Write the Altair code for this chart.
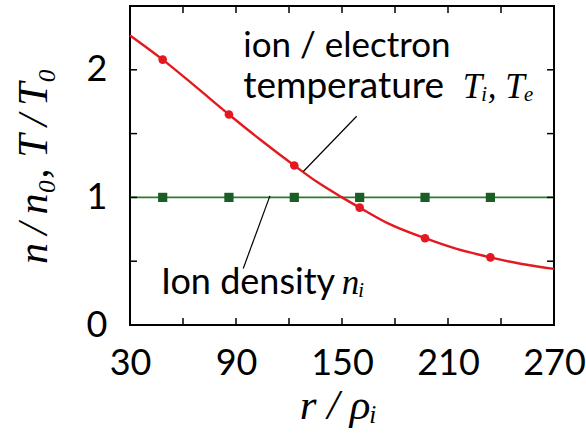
import altair as alt
import pandas as pd

# Radial profile samples along the temperature curve
curve_r = [30, 48.5, 67, 86, 104, 123, 136, 150, 160, 177, 197, 214, 234, 251, 270]
curve_T = [2.27, 2.08, 1.87, 1.65, 1.45, 1.25, 1.12, 1.00, 0.92, 0.79, 0.68, 0.60, 0.53, 0.48, 0.44]

# Simulation output points
marker_r = [48.5, 86, 123, 160, 197, 234]
marker_T = [2.08, 1.65, 1.25, 0.92, 0.68, 0.53]
marker_n = [1.0, 1.0, 1.0, 1.0, 1.0, 1.0]

# Flat density profile
dens_r = [30, 270]
dens_n = [1.0, 1.0]

# Axis ticks
x_labels = [30, 90, 150, 210, 270]
x_ticks = [60, 90, 120, 150, 180, 210, 240]
y_labels = [0, 1, 2]
y_ticks = [0.5, 1.0, 1.5, 2.0]

# Annotation leader lines (r1, v1) -> (r2, v2)
lead_r1 = [158.3, 109.2]
lead_v1 = [1.636, 1.012]
lead_r2 = [128.1, 94.1]
lead_v2 = [1.203, 0.443]

# Annotation texts
temp_title = ["ion / electron", "temperature"]
temp_title_r = [94.1, 94.1]
temp_title_v = [2.104, 1.781]
dens_title = ["Ion density"]
dens_title_r = [47.5]
dens_title_v = [0.245]
math_text = ["T\u1d62, T\u2091", "n\u1d62"]
math_r = [218.3, 149.8]
math_v = [1.781, 0.245]

W, H = 424, 319
RED = "#e3191f"
GREEN_LINE = "#2e7a32"
GREEN_MARK = "#1b5e25"
SANS = "Lato"
SERIF = "Liberation Serif"

xs = alt.Scale(domain=[30, 270], nice=False, zero=False)
ys = alt.Scale(domain=[0, 2.5], nice=False, zero=False)

x_axis = alt.Axis(
    values=x_labels, ticks=False, domain=False, grid=False, format="d",
    labelFont=SANS, labelFontSize=36, labelColor="black", labelPadding=21,
    labelFlush=False, labelOverlap=False,
    title="r / \u03c1\u1d62", titleFont=SERIF, titleFontStyle="italic",
    titleFontWeight="normal", titleFontSize=43, titleColor="black",
    titleBaseline="alphabetic", titleY=93, titleX=W / 2 - 4,
)
y_axis = alt.Axis(
    values=y_labels, ticks=False, domain=False, grid=False, format="d",
    labelFont=SANS, labelFontSize=36, labelColor="black", labelPadding=23,
    labelFlush=False, labelOverlap=False,
    title="n\u2009/\u2009n\u2080,  T\u2009/\u2009T\u2080", titleFont=SERIF,
    titleFontStyle="italic", titleFontWeight="normal", titleFontSize=42,
    titleColor="black", titleBaseline="alphabetic", titleX=-84, titleY=H / 2,
    titleAngle=270,
)

curve_df = pd.DataFrame({"r": curve_r, "v": curve_T})
dens_df = pd.DataFrame({"r": dens_r, "v": dens_n})
mT_df = pd.DataFrame({"r": marker_r, "v": marker_T})
mn_df = pd.DataFrame({"r": marker_r, "v": marker_n})

dens_line = alt.Chart(dens_df).mark_line(color=GREEN_LINE, strokeWidth=1.8).encode(
    x=alt.X("r:Q", scale=xs, axis=x_axis),
    y=alt.Y("v:Q", scale=ys, axis=y_axis),
)
dens_pts = alt.Chart(mn_df).mark_square(color=GREEN_MARK, opacity=1, size=85).encode(
    x=alt.X("r:Q", scale=xs), y=alt.Y("v:Q", scale=ys)
)
temp_line = alt.Chart(curve_df).mark_line(color=RED, strokeWidth=2.4, interpolate="monotone").encode(
    x=alt.X("r:Q", scale=xs), y=alt.Y("v:Q", scale=ys)
)
temp_pts = alt.Chart(mT_df).mark_circle(color=RED, opacity=1, size=75).encode(
    x=alt.X("r:Q", scale=xs), y=alt.Y("v:Q", scale=ys)
)

lead_df = pd.DataFrame({"r1": lead_r1, "v1": lead_v1, "r2": lead_r2, "v2": lead_v2})
leaders = alt.Chart(lead_df).mark_rule(color="black", strokeWidth=1.2).encode(
    x=alt.X("r1:Q", scale=xs), y=alt.Y("v1:Q", scale=ys),
    x2="r2:Q", y2="v2:Q",
)


def label_layer(texts, rs, vs, **style):
    df = pd.DataFrame({"t": texts, "r": rs, "v": vs})
    return alt.Chart(df).mark_text(
        align="left", baseline="alphabetic", color="black", **style
    ).encode(x=alt.X("r:Q", scale=xs), y=alt.Y("v:Q", scale=ys), text="t:N")


line1 = label_layer(temp_title[:1], temp_title_r[:1], temp_title_v[:1], font=SANS, fontSize=35)
line2 = label_layer(temp_title[1:], temp_title_r[1:], temp_title_v[1:], font=SANS, fontSize=37)
dens_lbl = label_layer(dens_title, dens_title_r, dens_title_v, font=SANS, fontSize=36)
math = label_layer(math_text, math_r, math_v, font=SERIF, fontStyle="italic", fontSize=35)

# Inward tick marks on all four sides
xt_df = pd.DataFrame({"r": x_ticks})
yt_df = pd.DataFrame({"v": y_ticks})
TL = 7
tick_bottom = alt.Chart(xt_df).mark_rule(color="black", strokeWidth=1.5).encode(
    x=alt.X("r:Q", scale=xs), y=alt.value(H), y2=alt.value(H - TL))
tick_top = alt.Chart(xt_df).mark_rule(color="black", strokeWidth=1.5).encode(
    x=alt.X("r:Q", scale=xs), y=alt.value(0), y2=alt.value(TL))
tick_left = alt.Chart(yt_df).mark_rule(color="black", strokeWidth=1.5).encode(
    y=alt.Y("v:Q", scale=ys), x=alt.value(0), x2=alt.value(TL))
tick_right = alt.Chart(yt_df).mark_rule(color="black", strokeWidth=1.5).encode(
    y=alt.Y("v:Q", scale=ys), x=alt.value(W), x2=alt.value(W - TL))

chart = alt.layer(
    dens_line, temp_line, dens_pts, temp_pts, leaders, line1, line2, dens_lbl, math,
    tick_bottom, tick_top, tick_left, tick_right,
).properties(
    width=W, height=H,
    autosize=alt.AutoSizeParams(type="none"),
    padding={"left": 130, "top": 6, "right": 32, "bottom": 112},
    background="white",
).configure_view(stroke="black", strokeWidth=2)

chart.save("out.html", embed_options={"renderer": "svg", "actions": False})
